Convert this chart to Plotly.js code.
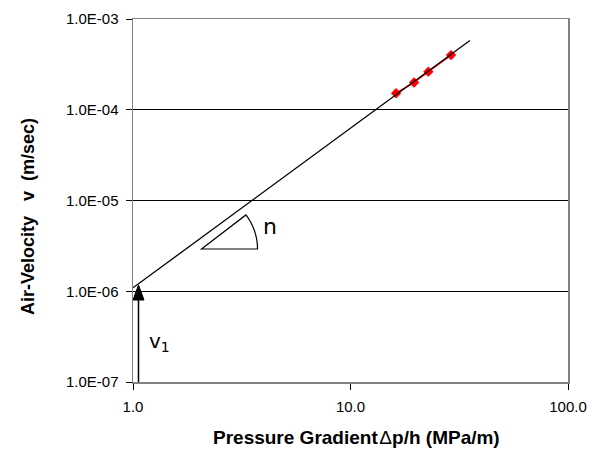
<!DOCTYPE html>
<html>
<head>
<meta charset="utf-8">
<script src="https://cdn.plot.ly/plotly-3.0.1.min.js"></script>
<style>html,body{margin:0;padding:0;background:#fff}</style>
</head>
<body>
<div id="chart" style="width:600px;height:450px"></div>
<script>
// Measured data points
var gradient = [16.2, 19.6, 22.8, 29.0];
var velocity = [1.52e-4, 2.0e-4, 2.63e-4, 4.0e-4];
// Fitted power-law line (end points)
var fitX = [1.0, 35.4];
var fitY = [1.09e-6, 5.8e-4];
// Axis ticks
var xTickVals = [1, 10, 100];
var xTickText = ['1.0', '10.0', '100.0'];
var yTickVals = [1e-7, 1e-6, 1e-5, 1e-4, 1e-3];
var yTickText = ['1.0E-07', '1.0E-06', '1.0E-05', '1.0E-04', '1.0E-03'];

var M = {l: 133, r: 32, t: 19, b: 68};
var W = 600 - M.l - M.r, H = 450 - M.t - M.b;
function px(x) { return (x - M.l) / W; }
function py(y) { return (450 - M.b - y) / H; }

// sector (angle marker) built in pixel geometry, converted to paper coords
var cx = 201.5, cy = 249, rad = 56, ang = 37.5 * Math.PI / 180;
var p = 'M ' + px(cx) + ',' + py(cy) + ' L ' + px(cx + rad * Math.cos(ang)) + ',' + py(cy - rad * Math.sin(ang));
for (var i = 1; i <= 24; i++) {
  var a = ang * (1 - i / 24);
  p += ' L ' + px(cx + rad * Math.cos(a)) + ',' + py(cy - rad * Math.sin(a));
}
p += ' Z';

// v1 arrow (pixel geometry -> paper)
var arX = 138.5, tipY = 285, baseY = 300, halfW = 5.5;
var head = 'M ' + px(arX) + ',' + py(tipY) + ' L ' + px(arX - halfW) + ',' + py(baseY) +
           ' L ' + px(arX + halfW) + ',' + py(baseY) + ' Z';

var traces = [
  {x: gradient, y: velocity, mode: 'lines+markers', type: 'scatter',
   line: {color: '#ff0000', width: 1.5},
   marker: {symbol: 'diamond', size: 8, color: '#ff0000'}},
  {x: fitX, y: fitY, mode: 'lines', type: 'scatter',
   line: {color: '#000000', width: 1.3}}
];

var layout = {
  width: 600, height: 450,
  margin: M,
  showlegend: false,
  paper_bgcolor: '#ffffff', plot_bgcolor: '#ffffff',
  font: {family: '"Liberation Sans", Arial, sans-serif', size: 15, color: '#000'},
  xaxis: {
    type: 'log', range: [0, 2],
    tickvals: xTickVals, ticktext: xTickText,
    showgrid: false, zeroline: false,
    showline: true, linecolor: '#808080', linewidth: 1.5, mirror: true,
    ticks: 'outside', ticklen: 6, tickcolor: '#000', tickwidth: 1,
    ticklabelstandoff: 4,
    tickfont: {size: 15}
  },
  yaxis: {
    type: 'log', range: [-7, -3],
    tickvals: yTickVals, ticktext: yTickText,
    showgrid: true, gridcolor: '#000', gridwidth: 1,
    zeroline: false,
    showline: true, linecolor: '#808080', linewidth: 1.5, mirror: true,
    ticks: 'outside', ticklen: 6, tickcolor: '#000', tickwidth: 1,
    ticklabelstandoff: 4,
    tickfont: {size: 15}
  },
  shapes: [
    {type: 'path', xref: 'paper', yref: 'paper', path: p,
     line: {color: '#000', width: 1.2}, fillcolor: 'rgba(0,0,0,0)'},
    {type: 'line', xref: 'paper', yref: 'paper', x0: px(arX), x1: px(arX), y0: 0, y1: py(baseY - 1),
     line: {color: '#000', width: 1.5}},
    {type: 'path', xref: 'paper', yref: 'paper', path: head,
     line: {color: '#000', width: 1}, fillcolor: '#000'}
  ],
  annotations: [
    {xref: 'paper', yref: 'paper', x: px(356), y: py(437), xanchor: 'center', yanchor: 'middle',
     text: 'Pressure Gradient\u200a<span style="font-weight:normal">\u0394</span>p/h (MPa/m)',
     showarrow: false, font: {size: 19, weight: 'bold'}},
    {xref: 'paper', yref: 'paper', x: px(28), y: py(217), xanchor: 'center', yanchor: 'middle', textangle: -90,
     text: 'Air-Velocity\u00a0\u00a0\u00a0v\u00a0\u00a0(m/sec)',
     showarrow: false, font: {size: 18, weight: 'bold'}},
    {xref: 'paper', yref: 'paper', x: px(261), y: py(226), xanchor: 'left', yanchor: 'middle', text: 'n', showarrow: false,
     font: {family: '"DejaVu Sans", sans-serif', size: 22, color: '#000'}},
    {xref: 'paper', yref: 'paper', x: px(147), y: py(342), xanchor: 'left', yanchor: 'middle', text: 'v<sub>1</sub>', showarrow: false,
     font: {family: '"DejaVu Sans", sans-serif', size: 20, color: '#000'}}
  ]
};

Plotly.newPlot('chart', traces, layout, {displayModeBar: false, staticPlot: true});
</script>
</body>
</html>
